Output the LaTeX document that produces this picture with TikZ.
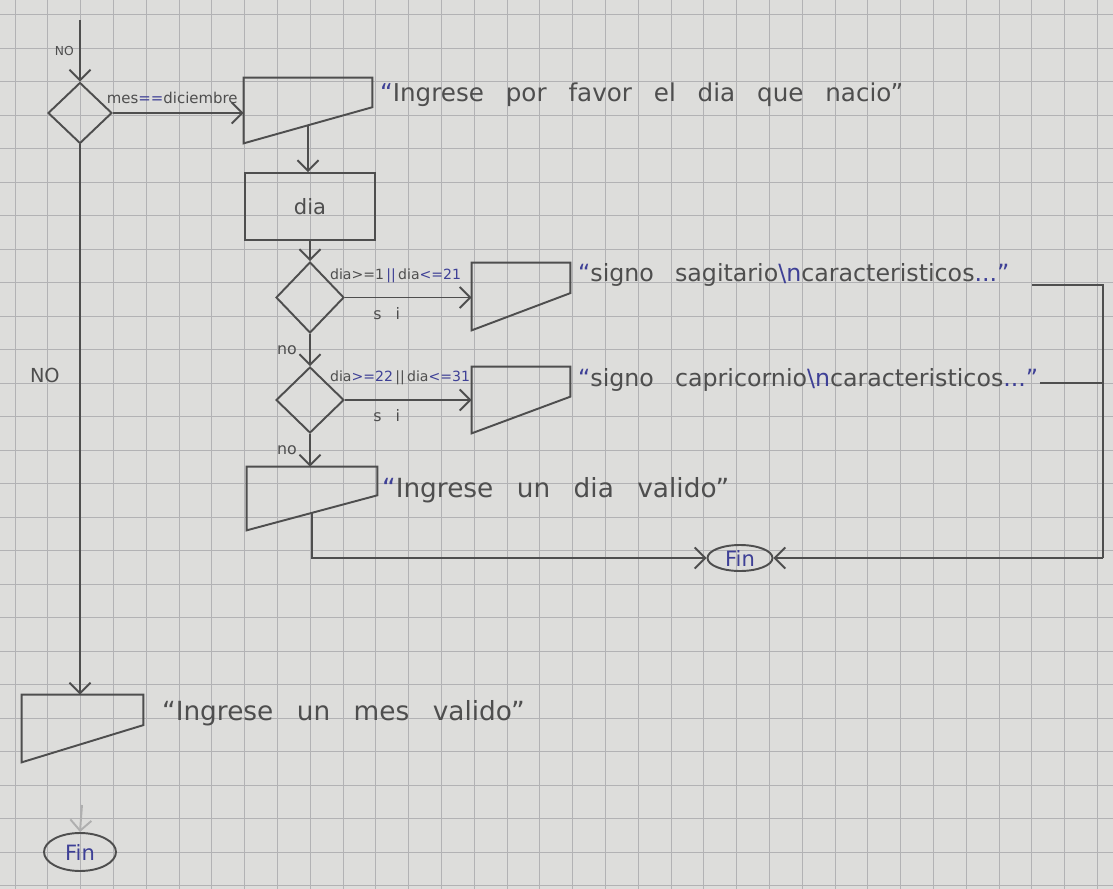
\documentclass[tikz,border=0pt]{standalone}
\usepackage{fontspec}
\setmainfont{DejaVu Sans}[WordSpace=2.8]
\usetikzlibrary{arrows.meta, calc, shapes.geometric}
\definecolor{papel}{RGB}{221,221,219}
\definecolor{cuadro}{RGB}{178,178,180}
\definecolor{lapiz}{RGB}{78,78,78}
\definecolor{tinta}{RGB}{62,64,150}
\newcommand{\azul}[1]{\textcolor{tinta}{#1}}

\begin{document}
\begin{tikzpicture}[
  x=0.02cm, y=-0.02cm,
  >={Straight Barb[length=6pt, width=12pt]},
  every node/.style={text=lapiz, inner sep=1pt},
  decision/.style={
    draw=lapiz, line width=1.1pt, diamond, inner sep=0pt
  },
  salida/.style={draw=none, inner sep=0pt},
  proceso/.style={
    draw=lapiz, line width=1.1pt, rectangle,
    minimum width=2.6cm, inner sep=0pt,
    font=\fontsize{12}{14}\selectfont
  },
  terminal/.style={
    draw=lapiz, line width=1.1pt, ellipse, inner sep=0pt,
    font=\fontsize{12}{14}\selectfont
  },
  mensaje/.style={anchor=west, font=\fontsize{14}{16}\selectfont},
  condicion/.style={anchor=south west, font=\fontsize{8}{10}\selectfont},
  rama/.style={font=\fontsize{9}{11}\selectfont},
  flecha/.style={->, draw=lapiz, line width=1.1pt},
  linea/.style={draw=lapiz, line width=1.1pt},
]

%% ── Hoja cuadriculada ─────────────────────────────────────────────────────
\fill[papel] (0,0) rectangle (1113,889);
\useasboundingbox (0,0) rectangle (1113,889);
\foreach \i in {0,...,33}
  \draw[cuadro, line width=0.5pt] ({15+32.8*\i},0) -- ({15+32.8*\i},889);
\foreach \j in {0,...,26}
  \draw[cuadro, line width=0.5pt] (0,{14.5+33.5*\j}) -- (1113,{14.5+33.5*\j});

%% ── Bloques ───────────────────────────────────────────────────────────────
\node[decision, minimum width=1.28cm, minimum height=1.22cm] (d1) at (80,113) {};
\node[salida, minimum width=2.56cm, minimum height=1.3cm]   (o1) at (308,110.5) {};
\node[proceso, minimum height=1.34cm]                       (dia) at (310,206.5) {dia};
\node[decision, minimum width=1.36cm, minimum height=1.42cm] (d2) at (310,297.5) {};
\node[salida, minimum width=1.96cm, minimum height=1.34cm]  (o2) at (521,296.5) {};
\node[decision, minimum width=1.36cm, minimum height=1.32cm] (d3) at (310,400) {};
\node[salida, minimum width=1.96cm, minimum height=1.32cm]  (o3) at (521,400) {};
\node[salida, minimum width=2.6cm, minimum height=1.26cm]   (o4) at (312,498.5) {};
\node[salida, minimum width=2.42cm, minimum height=1.34cm]  (o5) at (82.5,728.5) {};
\node[terminal, minimum width=1.3cm, minimum height=0.52cm]  (fin1) at (740,558) {\azul{Fin}};
\node[terminal, minimum width=1.44cm, minimum height=0.76cm] (fin2) at (80,852) {\azul{Fin}};

%% salidas de pantalla
\foreach \b in {o1,o2,o3,o4,o5} {
  \coordinate (\b-r) at ($(\b.north east)!0.45!(\b.south east)$);
  \coordinate (\b-s) at ($(\b.south west)!0.5!(\b-r)$);
  \draw[linea] (\b.north west) -- (\b.north east) -- (\b-r) -- (\b.south west) -- cycle;
}

%% ── Mensajes ──────────────────────────────────────────────────────────────
\node[mensaje] (t1) at (378,95) {\azul{“}Ingrese por favor el dia que nacio”};
\node[mensaje, font=\fontsize{13.5}{15}\selectfont] (t2) at (576,275)
  {\azul{“}signo sagitario\azul{\textbackslash n}caracteristicos\azul{...”}};
\node[mensaje, font=\fontsize{13.5}{15}\selectfont] (t3) at (576,380)
  {\azul{“}signo capricornio\azul{\textbackslash n}caracteristicos\azul{...”}};
\node[mensaje, font=\fontsize{15}{17}\selectfont] (t4) at (380,490) {\azul{“}Ingrese un dia valido”};
\node[mensaje, font=\fontsize{15}{17}\selectfont] (t5) at (160,713) {“Ingrese un mes valido”};

%% ── Flujo principal ───────────────────────────────────────────────────────
\coordinate (ini) at (80,20);
\draw[flecha] (ini) -- node[rama, left, font=\fontsize{7}{8}\selectfont, xshift=-2pt] {NO} (d1.north);
\draw[flecha] (d1.east) --
  node[condicion, at start, yshift=4pt, xshift=-5pt, font=\fontsize{8.5}{10}\selectfont]
  {mes\azul{==}diciembre} (d1.east -| o1.west);
\draw[flecha] (o1-s) -- (o1-s |- dia.north);
\draw[flecha] (dia.south) -- (d2.north);

%% ── Sagitario / Capricornio ───────────────────────────────────────────────
\draw[flecha] (d2.east) --
  node[condicion, at start, yshift=7pt, xshift=-10pt]
  {dia>=1\,\azul{||}\,dia\azul{<=21}}
  node[rama, below, pos=0.33, yshift=-4pt] {s i} (d2.east -| o2.west);
\draw[flecha] (d2.south) -- node[rama, left, xshift=-6pt] {no} (d3.north);
\draw[flecha] (d3.east) --
  node[condicion, at start, yshift=7pt, xshift=-10pt]
  {dia\azul{>=22}\,||\,dia\azul{<=31}}
  node[rama, below, pos=0.33, yshift=-4pt] {s i} (d3.east -| o3.west);
\draw[flecha] (d3.south) -- node[rama, left, xshift=-6pt] {no} (d3.south |- o4.north);

%% ── Hacia Fin ─────────────────────────────────────────────────────────────
\coordinate (k1) at (1032,285);
\coordinate (k2) at (1040,383);
\coordinate (esq) at (1103,558);
\draw[linea] (k1) -- (k1 -| esq) -- (esq);
\draw[linea] (k2) -- (k2 -| esq);
\draw[flecha] (esq) -- (fin1.east);
\draw[flecha] (o4-s) |- (fin1.west);

%% ── Mes no valido ─────────────────────────────────────────────────────────
\draw[flecha] (d1.south) --
  node[rama, pos=0.42, left, xshift=-10pt, font=\fontsize{11}{13}\selectfont] {NO}
  (d1.south |- o5.north);
\coordinate (f0) at (82,805);
\draw[flecha, draw=lapiz!45] (f0) -- (fin2.north);

\end{tikzpicture}
\end{document}
